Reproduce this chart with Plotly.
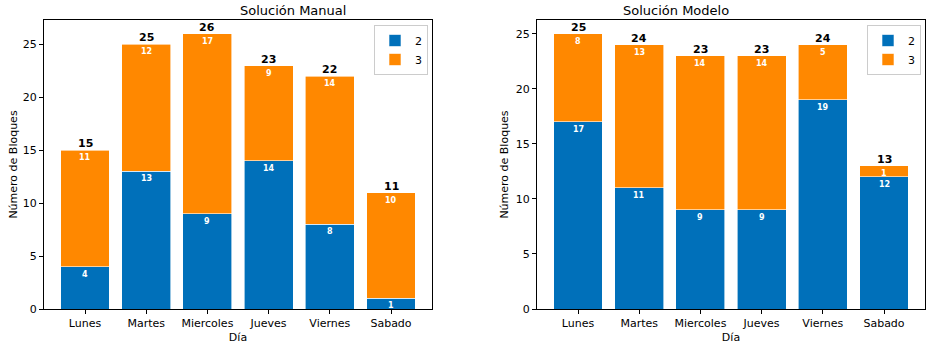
import plotly.graph_objects as go
from plotly.subplots import make_subplots

dias = ["Lunes", "Martes", "Miercoles", "Jueves", "Viernes", "Sabado"]
manual_2 = [4, 13, 9, 14, 8, 1]
manual_3 = [11, 12, 17, 9, 14, 10]
modelo_2 = [17, 11, 9, 9, 19, 12]
modelo_3 = [8, 13, 14, 14, 5, 1]
titulos = ["Solución Manual", "Solución Modelo"]

BLUE = "#0070BA"
ORANGE = "#FF8800"
FONT = "DejaVu Sans"

fig = make_subplots(rows=1, cols=2)

panels = [(manual_2, manual_3, 1, "legend"), (modelo_2, modelo_3, 2, "legend2")]
for s2, s3, col, leg in panels:
    fig.add_trace(go.Bar(x=dias, y=s2, name="2", marker=dict(color=BLUE, line=dict(color="white", width=0.6)),
                         width=0.8, legend=leg), row=1, col=col)
    fig.add_trace(go.Bar(x=dias, y=s3, name="3", marker=dict(color=ORANGE, line=dict(color="white", width=0.6)),
                         width=0.8, legend=leg), row=1, col=col)
    xref = "x" if col == 1 else "x2"
    yref = "y" if col == 1 else "y2"
    for d, a, b in zip(dias, s2, s3):
        fig.add_annotation(x=d, y=a, xref=xref, yref=yref, text=f"<b>{a}</b>", showarrow=False,
                           yanchor="top", yshift=-1, font=dict(color="white", size=8, family=FONT))
        fig.add_annotation(x=d, y=a + b, xref=xref, yref=yref, text=f"<b>{b}</b>", showarrow=False,
                           yanchor="top", yshift=-1, font=dict(color="white", size=8, family=FONT))
        fig.add_annotation(x=d, y=a + b, xref=xref, yref=yref, text=f"<b>{a + b}</b>", showarrow=False,
                           yanchor="bottom", yshift=-2, font=dict(color="black", size=11, family=FONT))

max1 = max(a + b for a, b in zip(manual_2, manual_3))
max2 = max(a + b for a, b in zip(modelo_2, modelo_3))

yd = [40 / 349, 329 / 349]
axis_common = dict(showline=True, linecolor="black", linewidth=1, mirror=True, ticks="outside",
                   ticklen=4, tickcolor="black", showgrid=False, zeroline=False, automargin=False,
                   tickfont=dict(size=11, color="black", family=FONT))
fig.update_layout(
    barmode="stack",
    width=932, height=349,
    margin=dict(l=0, r=0, t=0, b=0, autoexpand=False),
    plot_bgcolor="white", paper_bgcolor="white",
    font=dict(family=FONT, color="black"),
    xaxis=dict(domain=[44 / 932, 432 / 932], range=[-0.67, 5.67],
               title=dict(text="Día", font=dict(size=11), standoff=4), **axis_common),
    xaxis2=dict(domain=[537 / 932, 925 / 932], range=[-0.67, 5.67],
                title=dict(text="Día", font=dict(size=11), standoff=4), **axis_common),
    yaxis=dict(domain=yd, range=[0, max1 * 1.05], dtick=5,
               title=dict(text="Número de Bloques", font=dict(size=11), standoff=2), **axis_common),
    yaxis2=dict(domain=yd, range=[0, max2 * 1.05], dtick=5,
                title=dict(text="Número de Bloques", font=dict(size=11), standoff=4), **axis_common),
    legend=dict(x=428 / 932, y=1 - 25 / 349, xanchor="right", yanchor="top", bordercolor="#cccccc",
                borderwidth=1, font=dict(size=11), bgcolor="white", traceorder="normal"),
    legend2=dict(x=921 / 932, y=1 - 25 / 349, xanchor="right", yanchor="top", bordercolor="#cccccc",
                 borderwidth=1, font=dict(size=11), bgcolor="white", traceorder="normal"),
)
for i, t in enumerate(titulos):
    dom = [44 / 932, 432 / 932] if i == 0 else [537 / 932, 925 / 932]
    fig.add_annotation(x=(dom[0] + dom[1]) / 2, y=1 - 10 / 349, xref="paper", yref="paper", text=t,
                       showarrow=False, yanchor="middle", font=dict(size=13, family=FONT, color="black"))

fig.write_html("out.html")
